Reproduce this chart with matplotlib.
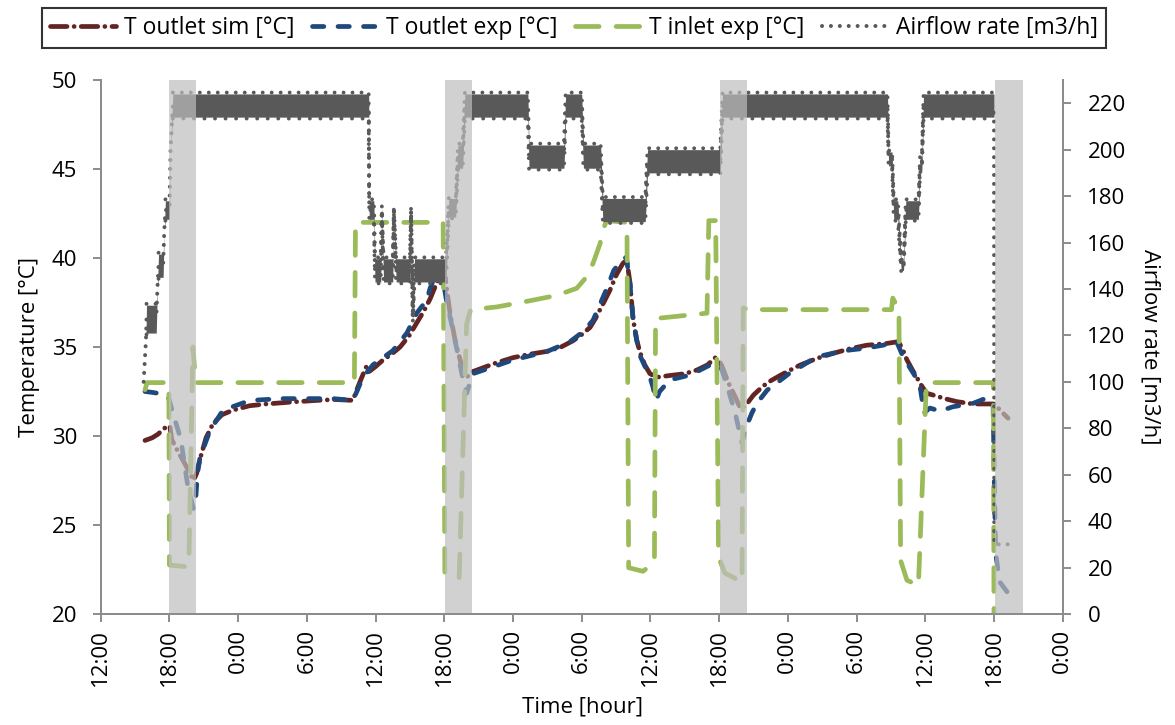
import matplotlib
matplotlib.use("Agg")
import matplotlib.pyplot as plt
import numpy as np

plt.rcParams['font.family'] = ['Open Sans', 'DejaVu Sans']

# ---------------- data (hours since 12:00 of day 0) ----------------
tick_hours = list(range(0, 85, 6))
tick_labels = ['12:00', '18:00', '0:00', '6:00', '12:00', '18:00', '0:00', '6:00',
               '12:00', '18:00', '0:00', '6:00', '12:00', '18:00', '0:00']

band_start = [6.0, 30.1, 54.1, 78.1]
band_end = [8.3, 32.4, 56.4, 80.5]

t_sim = [3.87, 4.5, 5.0, 5.5, 5.9, 6.05, 6.2, 6.6, 7.3, 7.8, 8.1, 8.38, 8.67, 9.2, 9.81,
         10.6, 11.55, 13.0, 14.5, 16.5, 18.86, 20.5, 22.03, 22.3, 22.8, 23.2, 23.4, 24.0,
         24.65, 25.4, 26.14, 26.9, 27.59, 28.2, 28.76, 29.34, 29.89, 30.1, 30.5, 31.0,
         31.5, 31.96, 32.4, 32.83, 34.5, 36.0, 37.5, 38.95, 40.2, 41.24, 42.0, 42.73,
         43.2, 43.6, 44.0, 44.47, 45.06, 45.6, 45.93, 46.22, 46.48, 46.8, 47.09, 47.5,
         47.96, 48.55, 49.71, 51.0, 52.04, 53.0, 53.64, 54.0, 54.2, 54.8, 55.4, 55.9,
         56.41, 57.0, 57.83, 58.5, 59.32, 60.2, 61.06, 62.5, 63.94, 65.4, 66.89, 68.63,
         69.65, 70.0, 70.38, 70.8, 71.25, 71.7, 72.13, 72.68, 73.7, 74.75, 76.17, 77.66,
         78.05, 78.53, 79.23]
T_sim = [29.75, 29.9, 30.1, 30.4, 30.6, 30.5, 29.8, 29.3, 28.5, 27.9, 27.5, 27.9, 28.7,
         29.9, 30.7, 31.2, 31.45, 31.7, 31.8, 31.9, 32.0, 32.05, 32.0, 32.5, 33.3, 33.9,
         33.6, 33.9, 34.27, 34.6, 35.0, 35.6, 36.35, 37.0, 37.7, 38.6, 39.3, 38.8, 36.9,
         35.2, 34.0, 33.3, 33.6, 33.7, 34.1, 34.4, 34.6, 34.75, 35.0, 35.35, 35.7, 36.1,
         36.6, 37.1, 37.6, 38.2, 39.1, 39.7, 39.9, 38.6, 36.6, 35.4, 34.7, 34.0, 33.5,
         33.3, 33.4, 33.5, 33.7, 34.0, 34.4, 34.2, 34.0, 33.0, 32.2, 31.5, 31.8, 32.3,
         32.8, 33.1, 33.4, 33.7, 33.98, 34.35, 34.64, 34.9, 35.1, 35.2, 35.3, 34.9, 34.3,
         33.8, 33.3, 32.8, 32.4, 32.3, 32.1, 31.93, 31.8, 31.8, 31.8, 31.45, 31.0]

t_exp = [3.87, 4.5, 5.5, 5.9, 6.3, 7.0, 7.6, 8.1, 8.3, 8.45, 8.67, 9.54, 10.68, 13.04,
         15.9, 20.3, 22.03, 22.9, 23.78, 25.52, 26.75, 27.59, 28.49, 28.76, 29.34, 29.7,
         30.2, 30.8, 31.6, 31.95, 32.5, 36.0, 38.95, 40.98, 42.12, 42.99, 43.6, 44.2,
         44.8, 45.4, 45.9, 46.22, 46.5, 46.8, 47.1, 47.96, 48.2, 48.5, 48.8, 49.7, 51.5,
         52.9, 53.5, 54.2, 54.8, 55.4, 56.0, 56.3, 56.85, 57.3, 58.2, 59.0, 60.5, 61.1,
         62.5, 64.0, 65.4, 66.9, 68.3, 69.5, 70.06, 71.5, 71.9, 72.4, 73.3, 74.4, 76.2,
         77.05, 77.92, 78.05, 78.15, 78.5, 79.2, 79.9]
T_exp = [32.5, 32.45, 32.35, 32.2, 31.3, 29.8, 27.2, 25.9, 26.5, 27.9, 28.8, 30.3, 31.45,
         32.0, 32.1, 32.1, 32.0, 33.3, 34.0, 34.8, 35.8, 36.9, 37.65, 38.3, 39.2, 39.45,
         37.6, 35.8, 33.3, 32.4, 33.5, 34.27, 34.74, 35.3, 35.86, 36.5, 37.4, 38.3, 39.3,
         39.8, 40.05, 38.5, 36.5, 35.4, 34.5, 33.3, 32.8, 32.0, 32.5, 33.15, 33.43, 33.89,
         34.08, 33.8, 32.6, 31.3, 29.6, 30.4, 31.28, 31.84, 32.58, 32.96, 33.7, 33.89,
         34.44, 34.66, 34.83, 34.94, 35.1, 35.3, 34.46, 32.96, 31.3, 31.57, 31.4, 31.64,
         31.84, 32.06, 32.0, 26.5, 23.4, 21.8, 21.2, 20.7]

t_in = [3.87, 4.05, 5.95, 6.0, 7.6, 7.7, 8.05, 8.3, 22.15, 22.25, 29.9, 30.05, 31.3,
        31.95, 32.3, 34.58, 37.49, 39.82, 41.57, 42.44, 42.99, 43.6, 43.86, 44.18, 45.95,
        46.1, 47.35, 48.35, 48.45, 52.94, 53.1, 53.7, 53.95, 54.5, 56.0, 56.1, 56.5,
        69.05, 69.16, 69.7, 69.85, 70.4, 71.4, 72.1, 77.95, 78.0]
T_in = [32.6, 33.0, 33.0, 22.75, 22.65, 22.9, 35.0, 33.0, 33.0, 42.0, 42.0, 22.3, 22.0,
        36.3, 37.1, 37.25, 37.6, 37.9, 38.3, 38.95, 39.7, 40.8, 41.6, 42.1, 42.0, 22.6,
        22.4, 22.9, 36.6, 36.9, 42.1, 42.1, 23.2, 22.3, 21.8, 37.2, 37.1, 37.1, 37.75,
        37.1, 23.0, 21.9, 21.6, 33.0, 33.0, 20.0]

t_air = [3.75, 3.95, 4.0, 4.85, 4.95, 5.05, 5.45, 5.55, 5.65, 6.0, 6.1, 6.3, 23.4, 23.45,
         23.85, 23.95, 24.45, 24.55, 24.7, 25.5, 25.6, 25.8, 27.0, 27.1, 27.25, 27.4,
         30.15, 30.4, 31.0, 31.2, 31.6, 31.8, 37.3, 37.4, 40.45, 40.6, 42.0, 42.15, 43.65,
         43.85, 47.55, 47.75, 54.1, 54.3, 68.7, 68.8, 69.1, 69.25, 69.6, 69.9, 70.1, 70.3,
         71.4, 71.55, 71.7, 71.85, 78.0, 78.02, 79.7]
air = [100, 118, 127, 127, 140, 150, 150, 165, 174, 174, 200, 219, 219, 174, 174, 148,
       148, 174, 148, 148, 174, 148, 148, 174, 127, 148, 148, 175, 175, 197, 197, 219, 219,
       197, 197, 219, 219, 197, 197, 174, 174, 195, 195, 219, 219, 196, 196, 174, 174, 150,
       150, 174, 174, 194, 194, 219, 219, 30, 30]
# half-width of the dense noise band around the airflow level
air_spread = [0, 0, 6, 6, 0, 5, 5, 0, 4, 4, 0, 5, 5, 4, 4, 5, 5, 1, 5, 5, 1, 5, 5, 1, 1,
              5, 5, 4, 4, 5, 5, 5, 5, 5, 5, 5, 5, 5, 5, 5, 5, 5, 5, 5, 5, 3, 3, 4, 4, 2, 2,
              4, 4, 3, 3, 5, 5, 0, 0]

# ---------------- styling ----------------
c_sim = '#632523'
c_exp = '#1F497D'
c_in = '#9BBB59'
c_air = '#595959'
c_axis = '#8C8C8C'
c_band = '#BEBEBE'
fs = 16

fig = plt.figure(figsize=(11.75, 7.25), dpi=100)
ax = fig.add_axes([100.7 / 1175, 1 - 614 / 725, 962 / 1175, 534 / 725])
ax2 = ax.twinx()

lw = 3.4
l_sim, = ax.plot(t_sim, T_sim, color=c_sim, lw=lw, dashes=(3.5, 1.5, 0.01, 1.5),
                 dash_capstyle='round', solid_capstyle='round', zorder=2,
                 label='T outlet sim [°C]')
l_exp, = ax.plot(t_exp, T_exp, color=c_exp, lw=lw, dashes=(2.4, 3.0),
                 dash_capstyle='round', zorder=3, label='T outlet exp [°C]')
l_in, = ax.plot(t_in, T_in, color=c_in, lw=lw, dashes=(5.0, 3.6),
                dash_capstyle='round', zorder=4, label='T inlet exp [°C]')

air_a = np.array(air, dtype=float)
spr = np.array(air_spread, dtype=float)
ax2.fill_between(t_air, air_a - spr, air_a + spr, color=c_air, lw=0, zorder=2)
# ragged edges of the noisy band
edge = np.where(spr > 0, spr + 0.6, np.nan)
ax2.plot(t_air, air_a + edge, color=c_air, lw=2.8, dashes=(0.01, 2.3),
         dash_capstyle='round', zorder=2)
ax2.plot(t_air, air_a - edge, color=c_air, lw=2.8, dashes=(0.01, 2.7),
         dash_capstyle='round', zorder=2)
l_air, = ax2.plot(t_air, air, color=c_air, lw=2.9, dashes=(0.01, 2.2),
                  dash_capstyle='round', zorder=3, label='Airflow rate [m3/h]')

for s, e in zip(band_start, band_end):
    ax2.axvspan(s, e, color=c_band, alpha=0.7, lw=0, zorder=10)

ax.set_xlim(0, 84)
ax.set_ylim(20, 50)
ax2.set_ylim(0, 230)
ax.set_xticks(tick_hours)
ax.set_xticklabels(tick_labels, rotation=90)
ax.set_yticks(np.arange(20, 51, 5))
ax2.set_yticks(np.arange(0, 221, 20))

for a in (ax, ax2):
    a.spines['top'].set_visible(False)
    for sp in ('left', 'right', 'bottom'):
        a.spines[sp].set_color(c_axis)
        a.spines[sp].set_linewidth(1.4)
        a.spines[sp].set_zorder(20)
ax.tick_params(axis='x', direction='out', length=5.8, width=1.4, color=c_axis,
               labelsize=fs, pad=5)
ax.tick_params(axis='y', direction='out', length=5.8, width=1.4, color=c_axis,
               labelsize=fs, pad=11)
ax2.tick_params(axis='y', direction='out', length=5.8, width=1.4, color=c_axis,
                labelsize=fs, pad=12)

fig.text(30 / 1175, 1 - 347 / 725, 'Temperature [°C]', rotation=90, ha='center',
         va='center', fontsize=fs)
fig.text(1150 / 1175, 1 - 347 / 725, 'Airflow rate [m3/h]', rotation=-90, ha='center',
         va='center', fontsize=fs)
fig.text(582 / 1175, 1 - 707 / 725, 'Time [hour]', ha='center', va='center', fontsize=fs)

leg = fig.legend([l_sim, l_exp, l_in, l_air],
                 [l_sim.get_label(), l_exp.get_label(), l_in.get_label(), l_air.get_label()],
                 ncol=4, loc='center', bbox_to_anchor=(574 / 1175, 1 - 28 / 725),
                 frameon=True, fancybox=False, edgecolor='black', fontsize=16.5,
                 handlelength=2.9, handletextpad=0.35, columnspacing=0.75, borderpad=0.35)
leg.get_frame().set_linewidth(1.5)

fig.savefig('out.png', dpi=100)
